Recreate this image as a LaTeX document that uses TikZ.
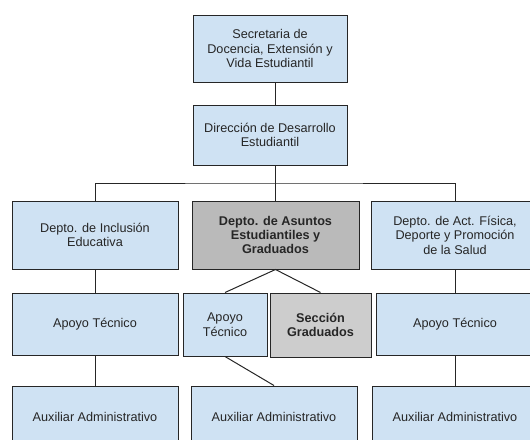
\documentclass[tikz,border=0pt]{standalone}
\usepackage{fontspec}
\setmainfont{Liberation Sans}
\usetikzlibrary{calc}

\definecolor{azulclaro}{HTML}{CFE2F3}
\definecolor{grisoscuro}{HTML}{BABABA}
\definecolor{grisclaro}{HTML}{CDCDCD}
\definecolor{borde}{HTML}{262626}

\begin{document}
\begin{tikzpicture}[x=0.75pt, y=-0.75pt, line width=0.75pt,
	caja/.style={draw=borde, fill=azulclaro, align=center, inner sep=2pt, text=borde,
			font=\fontsize{9.5}{10.8}\selectfont},
	cajagris/.style={caja, fill=grisoscuro, font=\bfseries\fontsize{9.5}{10.8}\selectfont},
	tam/.style 2 args={minimum width=#1*0.75pt, minimum height=#2*0.75pt}]

	\clip (0,0) rectangle (530,439);

	% Secretaria y Dirección
	\node[caja, tam={154}{67}] (secretaria) at (270,48.5) {Secretaria de\\Docencia, Extensión y\\Vida Estudiantil};
	\node[caja, tam={154}{60}] (direccion) at (270,135) {Dirección de Desarrollo\\Estudiantil};

	% Departamentos
	\node[caja, tam={166}{68}] (inclusion) at (95,235) {Depto. de Inclusión\\Educativa};
	\node[cajagris, tam={167}{68}] (asuntos) at (275.5,235) {Depto. de Asuntos\\Estudiantiles y\\Graduados};
	\node[caja, tam={168}{68}] (fisica) at (455,235) {Depto. de Act. Física,\\Deporte y Promoción\\de la Salud};

	% Apoyo técnico y sección
	\node[caja, tam={166}{62}] (apoyoA) at (95,324) {Apoyo Técnico};
	\node[caja, tam={84}{63}] (apoyoB) at (225,324.5) {Apoyo\\Técnico};
	\node[cajagris, fill=grisclaro, tam={101}{64}] (graduados) at (320.5,325) {Sección\\Graduados};
	\node[caja, tam={158}{62}] (apoyoC) at (455,324) {Apoyo Técnico};

	% Auxiliares (cortados por el borde inferior)
	\foreach \x/\n in {95/A,274/B,455/C} {
			\node[caja, tam={166}{62}] (aux\n) at (\x,417) {Auxiliar Administrativo};
		}

	% Conexiones
	\draw[borde] (secretaria.south -| asuntos) -- (direccion.north -| asuntos);
	\draw[borde] (direccion.south -| asuntos) -- (asuntos.north);
	\coordinate (bus) at ($(direccion.south)!0.5!(asuntos.north)$);
	\draw[borde] (inclusion.north) |- (bus) -| (fisica.north);
	\draw[borde] (inclusion) -- (apoyoA);
	\draw[borde] (fisica) -- (apoyoC);
	\draw[borde] (apoyoA) -- (auxA);
	\draw[borde] (apoyoC) -- (auxC);
	\draw[borde] (apoyoB.north) -- (asuntos.south) -- (graduados.north);
	\draw[borde] (apoyoB.south) -- (auxB.north);

\end{tikzpicture}
\end{document}
